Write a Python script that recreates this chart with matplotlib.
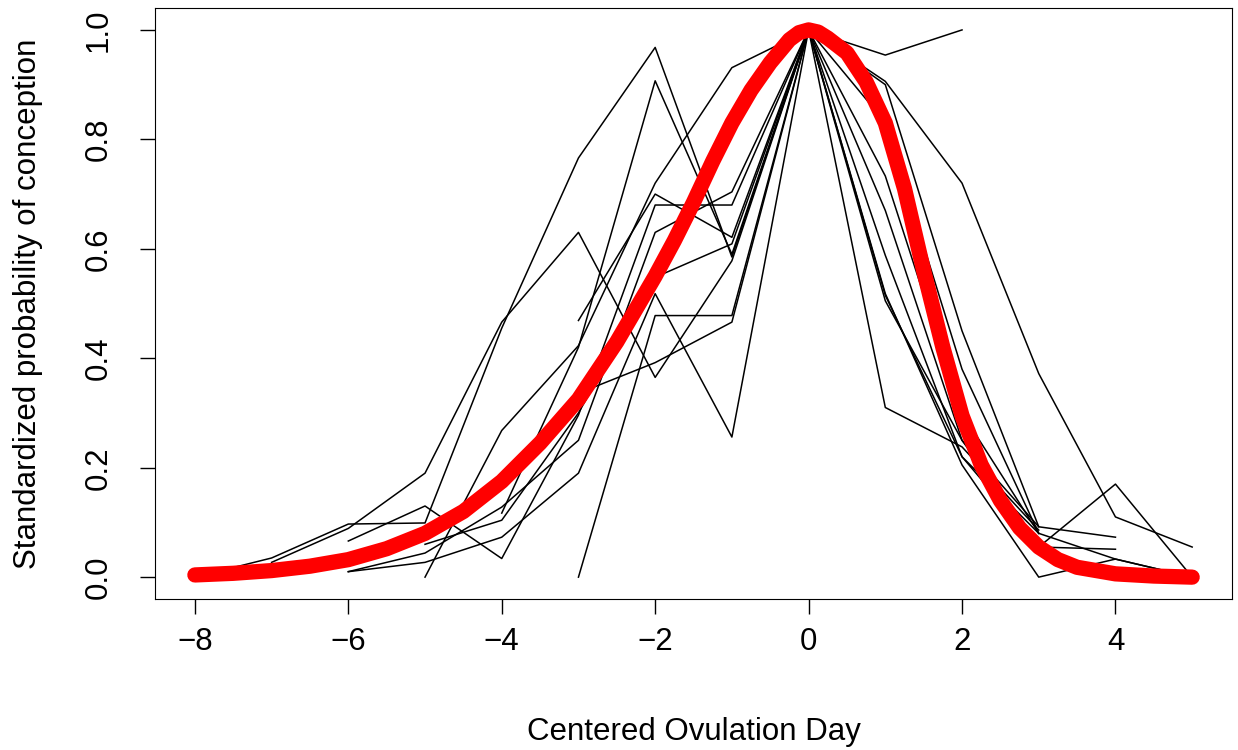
import numpy as np
import matplotlib.pyplot as plt

plt.rcParams['font.family'] = ['Liberation Sans', 'DejaVu Sans']

# individual studies: (days, standardized probability)
days_a = [-8, -7, -6, -5, -4, -3, -2, -1, 0, 1, 2]
prob_a = [0.0, 0.035, 0.097, 0.099, 0.455, 0.766, 0.968, 0.585, 1.0, 0.954, 1.0]
days_b = [-7, -6, -5, -4, -3, -2, -1, 0, 1, 2, 3, 4, 5]
prob_b = [0.027, 0.089, 0.19, 0.466, 0.63, 0.365, 0.578, 1.0, 0.906, 0.72, 0.372, 0.11, 0.055]
days_c = [-6, -5, -4, -3, -2, -1, 0, 1, 2, 3, 4, 5]
prob_c = [0.066, 0.13, 0.034, 0.296, 0.68, 0.68, 1.0, 0.733, 0.30, 0.08, 0.033, 0.0]
days_d = [-5, -4, -3, -2, -1, 0, 1, 2, 3, 4]
prob_d = [0.0, 0.268, 0.423, 0.72, 0.931, 1.0, 0.90, 0.45, 0.092, 0.073]
days_e = [-6, -5, -4, -3, -2, -1, 0, 1, 2, 3, 4, 5]
prob_e = [0.010, 0.044, 0.128, 0.25, 0.63, 0.704, 1.0, 0.67, 0.25, 0.055, 0.17, 0.0]
days_f = [-6, -5, -4, -3, -2, -1, 0, 1, 2, 3, 4, 5]
prob_f = [0.010, 0.027, 0.073, 0.19, 0.518, 0.256, 1.0, 0.518, 0.205, 0.0, 0.033, 0.0]
days_g = [-3, -2, -1, 0, 1, 2, 3]
prob_g = [0.469, 0.70, 0.621, 1.0, 0.831, 0.38, 0.08]
days_h = [-3, -2, -1, 0, 1, 2, 3]
prob_h = [0.0, 0.478, 0.478, 1.0, 0.31, 0.238, 0.086]
days_i = [-5, -4, -3, -2, -1, 0, 1, 2, 3, 4]
prob_i = [0.06, 0.104, 0.30, 0.548, 0.609, 1.0, 0.588, 0.22, 0.055, 0.051]
days_j = [-3, -2, -1, 0, 1, 2, 3]
prob_j = [0.336, 0.392, 0.466, 1.0, 0.515, 0.22, 0.08]
days_p = [-4, -3, -2, -1, 0, 1, 2, 3]
prob_p = [0.117, 0.42, 0.907, 0.59, 1.0, 0.505, 0.25, 0.092]

studies = [(days_a, prob_a), (days_b, prob_b), (days_c, prob_c), (days_d, prob_d),
           (days_e, prob_e), (days_f, prob_f), (days_g, prob_g), (days_h, prob_h),
           (days_i, prob_i), (days_j, prob_j), (days_p, prob_p)]

# fitted curve
fit_days = [-8, -7.5, -7, -6.5, -6, -5.5, -5, -4.5, -4, -3.5, -3, -2.5, -2, -1.75, -1.5,
            -1.25, -1, -0.75, -0.5, -0.25, -0.125, 0, 0.125, 0.25, 0.5, 0.75, 1, 1.25,
            1.5, 1.75, 2, 2.25, 2.5, 2.75, 3, 3.25, 3.5, 4, 4.5, 5]
fit_prob = [0.004, 0.007, 0.012, 0.02, 0.032, 0.052, 0.08, 0.12, 0.175, 0.245, 0.325,
            0.43, 0.55, 0.615, 0.685, 0.76, 0.83, 0.89, 0.94, 0.982, 0.995, 1.0, 0.996,
            0.985, 0.958, 0.905, 0.83, 0.71, 0.56, 0.42, 0.295, 0.205, 0.14, 0.09, 0.055,
            0.032, 0.018, 0.006, 0.002, 0.0]

fig = plt.figure(figsize=(12.38, 7.5), dpi=100)
ax = fig.add_axes([0.1252, 0.2013, 0.87, 0.788])

for d, p in studies:
    ax.plot(d, p, color='black', lw=1.1)
ax.plot(fit_days, fit_prob, color='red', lw=11, solid_capstyle='round', solid_joinstyle='round')

ax.set_xlim(-8.52, 5.52)
ax.set_ylim(-0.04, 1.04)
ax.set_xticks([-8, -6, -4, -2, 0, 2, 4])
ax.set_xticklabels(['\u22128', '\u22126', '\u22124', '\u22122', '0', '2', '4'])
ax.set_yticks([0.0, 0.2, 0.4, 0.6, 0.8, 1.0])
ax.set_yticklabels(['0.0', '0.2', '0.4', '0.6', '0.8', '1.0'], rotation=90, va='center')
ax.tick_params(labelsize=22.5, length=11, width=1)
ax.tick_params(axis='x', pad=9)
ax.tick_params(axis='y', pad=19)
ax.set_xlabel('Centered Ovulation Day', fontsize=22.5, va='center')
ax.set_ylabel('Standardized probability of conception', fontsize=22.5, va='center')
ax.xaxis.set_label_coords(0.5, -0.225)
ax.yaxis.set_label_coords(-0.118, 0.5)

fig.savefig('out.png', dpi=100)
